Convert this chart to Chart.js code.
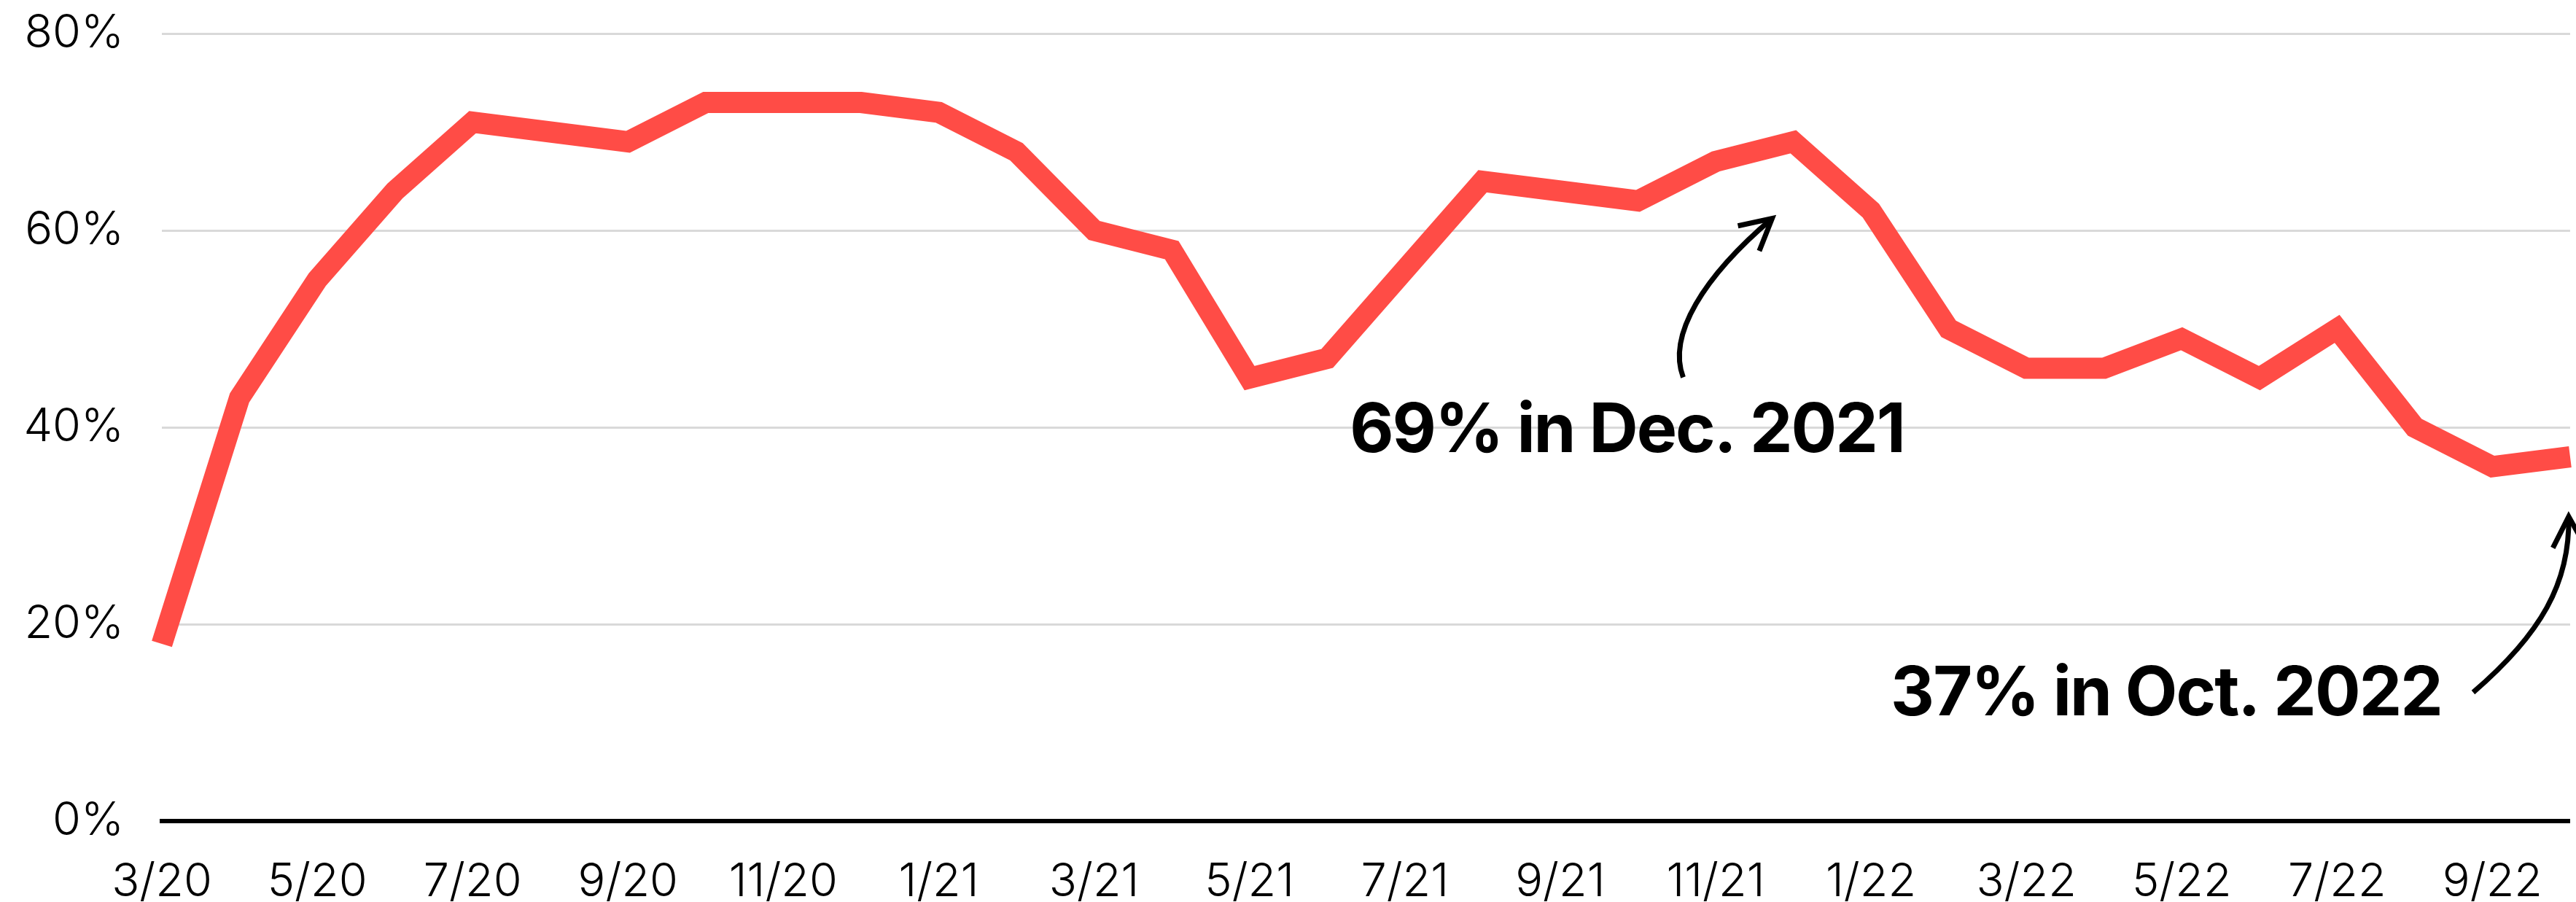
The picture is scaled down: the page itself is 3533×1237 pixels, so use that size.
<!DOCTYPE html>
<html>
<head>
<meta charset="utf-8">
<script src="https://cdn.jsdelivr.net/npm/chart.js@4"></script>
<style>
    html, body { margin: 0; padding: 0; background: #fff; }
    #wrap { width: 3533px; height: 1237px; position: relative; }
</style>
</head>
<body>
<div id="wrap"><canvas id="share_line"></canvas></div>
<script>
// monthly readings, 3/20 through 10/22
const months = [
    '3/20', '4/20', '5/20', '6/20', '7/20', '8/20', '9/20', '10/20', '11/20', '12/20',
    '1/21', '2/21', '3/21', '4/21', '5/21', '6/21', '7/21', '8/21', '9/21', '10/21', '11/21', '12/21',
    '1/22', '2/22', '3/22', '4/22', '5/22', '6/22', '7/22', '8/22', '9/22', '10/22'
];
const shares = [
    18, 43, 55, 64, 71, 70, 69, 73, 73, 73,
    72, 68, 60, 58, 45, 47, 56, 65, 64, 63, 67, 69,
    62, 50, 46, 46, 49, 45, 50, 40, 36, 37
];
const yTicks = [0, 20, 40, 60, 80];

// callouts
const noteTexts = ['69% in Dec. 2021', '37% in Oct. 2022'];
const noteMonths = ['12/21', '10/22'];

const RED = '#ff4c46';

const notesPlugin = {
    id: 'notes',
    afterDatasetsDraw(chart) {
        const { ctx, scales } = chart;
        // offsets from the marked point: text centre/baseline, then bezier points
        const layout = [
            { tx: -228, ty: 425, p: [[-151, 323], [-173, 265], [-123, 185], [-29, 105]] },
            { tx: -554, ty: 354, p: [[-133, 323], [-40, 243], [0, 173], [-2, 82]] }
        ];
        ctx.save();
        noteTexts.forEach((text, i) => {
            const idx = months.indexOf(noteMonths[i]);
            const px = scales.x.getPixelForValue(idx);
            const py = scales.y.getPixelForValue(shares[idx]);
            const l = layout[i];

            ctx.fillStyle = '#000';
            ctx.font = 'bold 93px Inter, "Liberation Sans", sans-serif';
            ctx.textAlign = 'center';
            ctx.textBaseline = 'alphabetic';
            if ('letterSpacing' in ctx) ctx.letterSpacing = '-2px';
            ctx.fillText(text, px + l.tx, py + l.ty);

            const pts = l.p.map(q => [px + q[0], py + q[1]]);
            ctx.strokeStyle = '#000';
            ctx.lineWidth = 7;
            ctx.lineCap = 'butt';
            ctx.lineJoin = 'miter';
            ctx.beginPath();
            ctx.moveTo(pts[0][0], pts[0][1]);
            ctx.bezierCurveTo(pts[1][0], pts[1][1], pts[2][0], pts[2][1], pts[3][0], pts[3][1]);
            ctx.stroke();

            // open arrow head along the end tangent
            const ang = Math.atan2(pts[3][1] - pts[2][1], pts[3][0] - pts[2][0]) + Math.PI;
            const len = 48;
            const spread = 0.49;
            ctx.beginPath();
            ctx.moveTo(pts[3][0] + Math.cos(ang - spread) * len, pts[3][1] + Math.sin(ang - spread) * len);
            ctx.lineTo(pts[3][0], pts[3][1]);
            ctx.lineTo(pts[3][0] + Math.cos(ang + spread) * len, pts[3][1] + Math.sin(ang + spread) * len);
            ctx.stroke();
        });
        ctx.restore();
    }
};

const ctx = document.getElementById('share_line').getContext('2d');

new Chart(ctx, {
    type: 'line',
    data: {
        labels: months,
        datasets: [
            {
                label: 'Share',
                data: shares,
                borderColor: RED,
                borderWidth: 29,
                borderJoinStyle: 'miter',
                borderCapStyle: 'butt',
                tension: 0,
                pointRadius: 0,
                pointHoverRadius: 0,
                fill: false
            }
        ]
    },
    options: {
        responsive: true,
        maintainAspectRatio: false,
        devicePixelRatio: 1,
        animation: false,
        layout: {
            padding: { top: 0, left: 31, right: 0, bottom: 0 }
        },
        plugins: {
            legend: { display: false },
            tooltip: { enabled: false }
        },
        scales: {
            x: {
                offset: false,
                afterFit: axis => { axis.height = 111; },
                grid: { display: false, drawTicks: false },
                border: { display: true, color: '#000', width: 6 },
                ticks: {
                    autoSkip: false,
                    maxRotation: 0,
                    padding: 46,
                    color: '#000',
                    font: { family: 'Inter', size: 63, weight: 300 },
                    callback: (v, i) => (i % 2 === 0 ? months[i] : null)
                }
            },
            y: {
                min: 0,
                max: 80,
                afterBuildTicks: axis => {
                    axis.ticks = yTicks.map(v => ({ value: v }));
                },
                afterFit: axis => {
                    axis.width = 191;
                    axis.paddingTop = 46;
                    axis.paddingBottom = 0;
                },
                grid: {
                    drawTicks: false,
                    lineWidth: 3,
                    color: c => (c.tick && c.tick.value === 0 ? 'rgba(0,0,0,0)' : '#d9d9d9')
                },
                border: { display: false },
                ticks: {
                    padding: 52,
                    color: '#000',
                    font: { family: 'Inter', size: 63, weight: 300 },
                    callback: v => v + '%'
                }
            }
        }
    },
    plugins: [notesPlugin]
});
</script>
</body>
</html>
